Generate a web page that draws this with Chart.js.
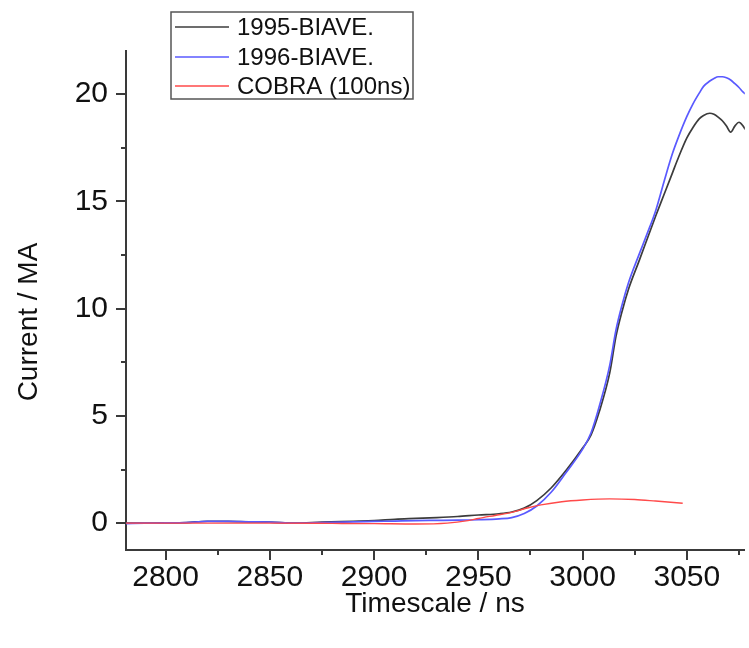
<!DOCTYPE html>
<html>
<head>
<meta charset="utf-8">
<script src="https://cdn.jsdelivr.net/npm/chart.js@4.4.1/dist/chart.umd.min.js"></script>
<style>
  html, body { margin: 0; padding: 0; background: #ffffff; }
  #wrap { width: 749px; height: 648px; position: relative; }
</style>
</head>
<body>
<div id="wrap"><canvas id="chart" width="749" height="648"></canvas></div>
<script>
// Time base (ns) shared by the two BIAVE current traces
const timeBiave = [2781, 2790, 2800, 2810, 2820, 2830, 2840, 2850, 2862, 2875, 2890, 2900, 2910, 2920, 2930, 2940, 2950, 2960, 2966, 2972, 2978, 2985, 2992, 3000, 3004, 3008, 3013, 3016, 3019, 3022, 3027, 3031, 3035, 3039, 3043, 3046, 3050, 3053, 3056, 3058, 3061, 3063, 3065, 3067, 3069, 3071, 3073, 3075, 3077, 3078];

// Current (MA)
const current1995 = [0.0, 0.0, 0.01, 0.03, 0.09, 0.08, 0.06, 0.05, 0.0, 0.05, 0.09, 0.12, 0.18, 0.22, 0.26, 0.31, 0.38, 0.44, 0.52, 0.70, 1.05, 1.65, 2.45, 3.5, 4.1, 5.2, 7.0, 8.7, 9.9, 10.9, 12.2, 13.25, 14.3, 15.3, 16.3, 17.05, 17.95, 18.45, 18.85, 19.0, 19.1, 19.05, 18.92, 18.75, 18.5, 18.22, 18.5, 18.68, 18.5, 18.35];
const current1996 = [-0.02, 0.0, 0.01, 0.03, 0.08, 0.08, 0.06, 0.05, 0.0, 0.03, 0.06, 0.08, 0.10, 0.12, 0.13, 0.14, 0.16, 0.20, 0.26, 0.45, 0.8, 1.45, 2.35, 3.45, 4.2, 5.45, 7.35, 9.0, 10.2, 11.2, 12.5, 13.5, 14.55, 15.9, 17.2, 18.0, 18.95, 19.55, 20.05, 20.35, 20.6, 20.72, 20.8, 20.8, 20.75, 20.65, 20.48, 20.3, 20.08, 20.0];

// COBRA simulation (100 ns)
const timeCobra = [2781, 2800, 2850, 2880, 2900, 2920, 2935, 2945, 2950, 2958, 2966, 2974, 2980, 2990, 3000, 3013, 3025, 3035, 3048];
const currentCobra = [0, 0, 0, -0.01, -0.02, -0.04, 0.0, 0.12, 0.22, 0.36, 0.5, 0.72, 0.85, 1.0, 1.08, 1.13, 1.1, 1.03, 0.93];

const seriesLabels = ['1995-BIAVE.', '1996-BIAVE.', 'COBRA (100ns)'];
const xTickValues = [2800, 2825, 2850, 2875, 2900, 2925, 2950, 2975, 3000, 3025, 3050, 3075];
const yTickValues = [0, 2.5, 5, 7.5, 10, 12.5, 15, 17.5, 20];
const xTitle = 'Timescale / ns';
const yTitle = 'Current / MA';

const FONT = '"Liberation Sans", Arial, Helvetica, sans-serif';
const AXIS_COLOR = '#3a3a3a';

function pairs(xs, ys) { return xs.map((x, i) => ({ x: x, y: ys[i] })); }

// Axis ticks (major/minor), axis titles and the boxed legend
const decorations = {
  id: 'decorations',
  afterDraw(chart) {
    const ctx = chart.ctx;
    const area = chart.chartArea;
    const xs = chart.scales.x, ys = chart.scales.y;
    ctx.save();
    ctx.strokeStyle = AXIS_COLOR;
    ctx.lineWidth = 2;
    ctx.beginPath();
    xTickValues.forEach(v => {
      const px = Math.round(xs.getPixelForValue(v));
      const len = (v % 50 === 0) ? 10 : 5;
      ctx.moveTo(px, area.bottom);
      ctx.lineTo(px, area.bottom + len);
    });
    yTickValues.forEach(v => {
      const py = Math.round(ys.getPixelForValue(v));
      const len = (v % 5 === 0) ? 10 : 5;
      ctx.moveTo(area.left, py);
      ctx.lineTo(area.left - len, py);
    });
    ctx.stroke();

    // axis titles
    ctx.fillStyle = '#111111';
    ctx.font = '28px ' + FONT;
    ctx.textAlign = 'center';
    ctx.textBaseline = 'middle';
    ctx.fillText(xTitle, 435, 604);
    ctx.save();
    ctx.translate(29, 322);
    ctx.rotate(-Math.PI / 2);
    ctx.fillText(yTitle, 0, 0);
    ctx.restore();

    // legend
    const bx = 171, by = 12, bw = 242, bh = 87;
    ctx.fillStyle = '#ffffff';
    ctx.fillRect(bx, by, bw, bh);
    ctx.strokeStyle = '#555555';
    ctx.lineWidth = 1.5;
    ctx.strokeRect(bx, by, bw, bh);
    ctx.font = '24px ' + FONT;
    ctx.textAlign = 'left';
    ctx.textBaseline = 'middle';
    const rowY = [27, 57, 86];
    chart.data.datasets.forEach((ds, i) => {
      ctx.strokeStyle = ds.borderColor;
      ctx.lineWidth = 1.6;
      ctx.beginPath();
      ctx.moveTo(175, rowY[i]);
      ctx.lineTo(229, rowY[i]);
      ctx.stroke();
      ctx.fillStyle = '#111111';
      ctx.fillText(ds.label, 237, rowY[i] + 1);
    });
    ctx.restore();
  }
};

new Chart(document.getElementById('chart'), {
  type: 'line',
  data: {
    datasets: [
      { label: seriesLabels[0], data: pairs(timeBiave, current1995), borderColor: '#3c3c3c', borderWidth: 1.7, order: 2 },
      { label: seriesLabels[1], data: pairs(timeBiave, current1996), borderColor: '#5a5aff', borderWidth: 1.7, order: 1 },
      { label: seriesLabels[2], data: pairs(timeCobra, currentCobra), borderColor: '#ff4a4a', borderWidth: 1.4, order: 0 }
    ]
  },
  options: {
    responsive: false,
    animation: false,
    devicePixelRatio: 1,
    layout: { padding: { top: 51, right: 0, left: 0, bottom: 0 } },
    elements: {
      point: { radius: 0 },
      line: { cubicInterpolationMode: 'monotone', fill: false }
    },
    plugins: { legend: { display: false }, tooltip: { enabled: false }, title: { display: false } },
    scales: {
      x: {
        type: 'linear',
        min: 2781,
        max: 3077.8,
        afterBuildTicks(scale) { scale.ticks = xTickValues.map(v => ({ value: v })); },
        afterFit(scale) { scale.height = 98; },
        grid: { display: true, drawOnChartArea: false, drawTicks: false },
        border: { display: true, color: AXIS_COLOR, width: 2 },
        ticks: {
          padding: 10,
          color: '#111111',
          font: { family: FONT, size: 30 },
          maxRotation: 0,
          autoSkip: false,
          callback: v => (v % 50 === 0 ? String(v) : '')
        }
      },
      y: {
        type: 'linear',
        min: -1.25,
        max: 22,
        afterBuildTicks(scale) { scale.ticks = yTickValues.map(v => ({ value: v })); },
        afterFit(scale) { scale.width = 126; },
        grid: { display: true, drawOnChartArea: false, drawTicks: false },
        border: { display: true, color: AXIS_COLOR, width: 2 },
        ticks: {
          padding: 18,
          color: '#111111',
          font: { family: FONT, size: 30 },
          autoSkip: false,
          callback: v => (v % 5 === 0 ? String(v) : '')
        }
      }
    }
  },
  plugins: [decorations]
});
</script>
</body>
</html>
